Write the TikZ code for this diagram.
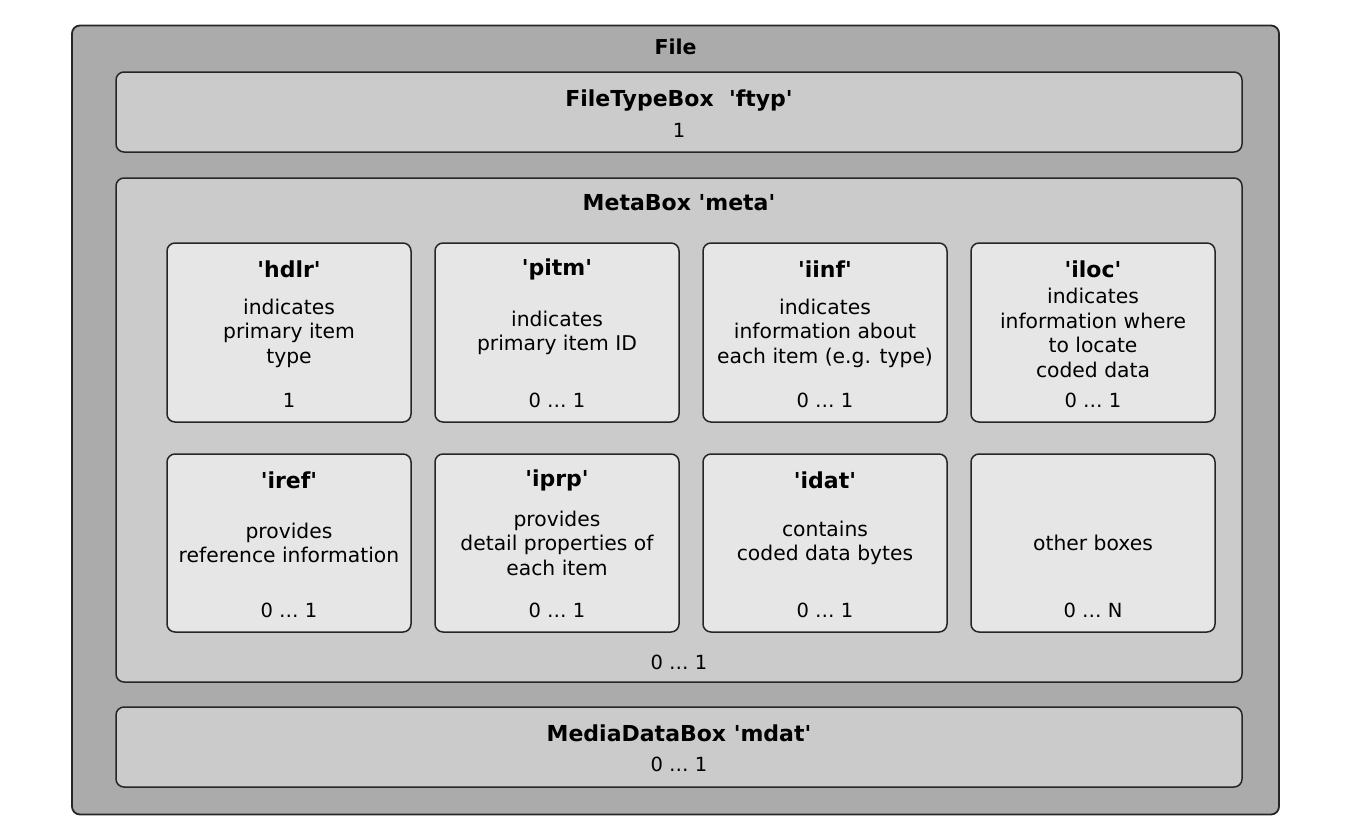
\documentclass[tikz,border=0pt]{standalone}
\usepackage{fontspec}
\setmainfont{DejaVu Sans}
\newcommand{\sq}{\textquotesingle}
\begin{document}
\begin{tikzpicture}[x=1pt,y=-1pt,
  outerbox/.style={draw=black!85,line width=1.8pt,fill=outergray,rounded corners=8pt,inner sep=0pt},
  midbox/.style={draw=black!85,line width=1.5pt,fill=midgray,rounded corners=8pt,inner sep=0pt},
  smallbox/.style={draw=black!85,line width=1.5pt,fill=lightgray2,rounded corners=8pt,inner sep=0pt,minimum width=244pt},
  title/.style={font=\fontsize{22}{26}\selectfont\bfseries,inner sep=0pt},
  desc/.style={font=\fontsize{20.3}{24.5}\selectfont,align=center,inner sep=0pt},
  count/.style={font=\fontsize{19.5}{24.5}\selectfont,inner sep=0pt}]
\definecolor{outergray}{HTML}{ABABAB}
\definecolor{midgray}{HTML}{CBCBCB}
\definecolor{lightgray2}{HTML}{E6E6E6}
\useasboundingbox[fill=white] (0,0) rectangle (1351,816);
% outer file box
\node[outerbox,minimum width=1207pt,minimum height=789pt] (file) at (675.5,420) {};
\node[title,font=\fontsize{20.5}{24}\selectfont\bfseries] (filet) at (675.5,47) {File};
% ftyp
\node[midbox,minimum width=1126pt,minimum height=80pt] (ftyp) at (679,112) {};
\node[title] (ftypt) at (679,101) {FileTypeBox\ \ \sq ftyp\sq};
\node[count] (ftypc) at (679,130) {1};
% meta
\node[midbox,minimum width=1126pt,minimum height=504pt] (meta) at (679,430) {};
\node[title] (metat) at (679,203) {MetaBox \sq meta\sq};
\node[count] (metac) at (679,662) {0 … 1};
% mdat
\node[midbox,minimum width=1126pt,minimum height=80pt] (mdat) at (679,747) {};
\node[title] (mdatt) at (679,733) {MediaDataBox \sq mdat\sq};
\node[count] (mdatc) at (679,764) {0 … 1};
% row 1
\node[smallbox,minimum height=179pt] (hdlr) at (289,332.5) {};
\node[smallbox,minimum height=179pt] (pitm) at (557,332.5) {};
\node[smallbox,minimum height=179pt] (iinf) at (825,332.5) {};
\node[smallbox,minimum height=179pt] (iloc) at (1093,332.5) {};
\node[title] (hdlrt) at (289,269) {\sq hdlr\sq};
\node[title] (pitmt) at (557,269) {\sq pitm\sq};
\node[title] (iinft) at (825,269) {\sq iinf\sq};
\node[title] (iloct) at (1093,269) {\sq iloc\sq};
\node[desc] (hdlrd) at (289,333) {indicates\\primary item\\type};
\node[desc] (pitmd) at (557,333) {indicates\\primary item ID};
\node[desc] (iinfd) at (825,333) {indicates\\information about\\each item (e.g. type)};
\node[desc] (ilocd) at (1093,333) {indicates\\information where\\to locate\\coded data};
\node[count] (hdlrc) at (289,400) {1};
\node[count] (pitmc) at (557,400) {0 … 1};
\node[count] (iinfc) at (825,400) {0 … 1};
\node[count] (ilocc) at (1093,400) {0 … 1};
% row 2
\node[smallbox,minimum height=178pt] (iref) at (289,543) {};
\node[smallbox,minimum height=178pt] (iprp) at (557,543) {};
\node[smallbox,minimum height=178pt] (idat) at (825,543) {};
\node[smallbox,minimum height=178pt] (other) at (1093,543) {};
\node[title] (reft) at (289,480) {\sq iref\sq};
\node[title] (iprpt) at (557,480) {\sq iprp\sq};
\node[title] (idatt) at (825,480) {\sq idat\sq};
\node[desc] (irefd) at (289,543) {provides\\reference information};
\node[desc] (iprpd) at (557,543) {provides\\detail properties of\\each item};
\node[desc] (idatd) at (825,543) {contains\\coded data bytes};
\node[desc] (otherd) at (1093,543) {other boxes};
\node[count] (irefc) at (289,610) {0 … 1};
\node[count] (iprpc) at (557,610) {0 … 1};
\node[count] (idatc) at (825,610) {0 … 1};
\node[count] (otherc) at (1093,610) {0 … N};
\end{tikzpicture}
\end{document}
